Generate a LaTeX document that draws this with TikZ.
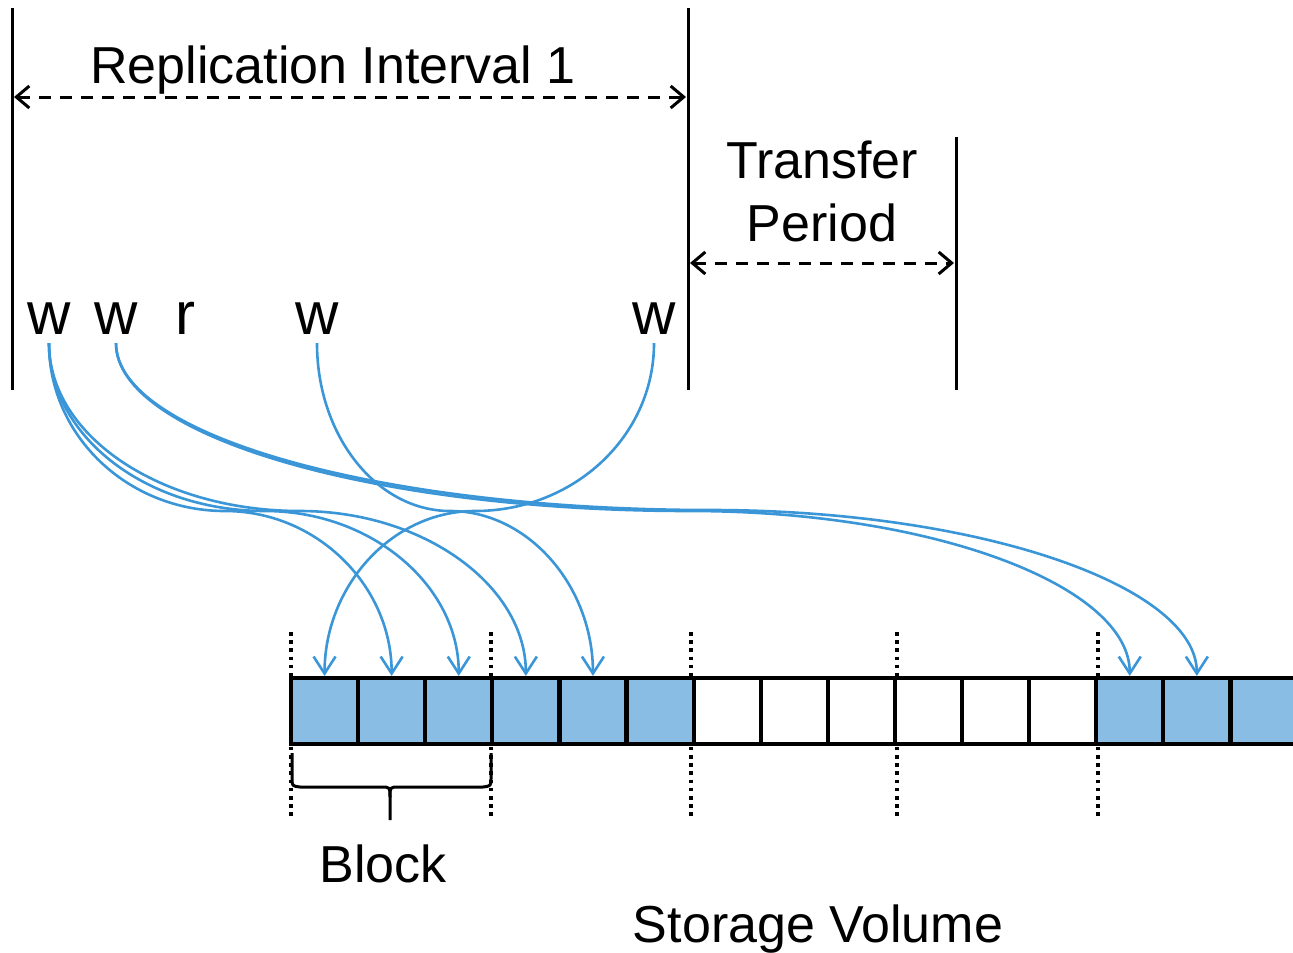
\documentclass[tikz,border=0pt]{standalone}
\usepackage{fontspec}
\setmainfont{Liberation Sans}
\usetikzlibrary{arrows.meta}
\definecolor{wblue}{RGB}{58,150,215}
\definecolor{cfill}{RGB}{137,189,228}
\begin{document}
\begin{tikzpicture}[x=1pt,y=-1pt,
  lbl/.style={font=\fontsize{52}{63}\selectfont, inner sep=0pt},
  opw/.style={font=\fontsize{60}{60}\selectfont, inner xsep=0pt, inner ysep=9pt, anchor=base},
  cell/.style={draw=black, line width=4.2pt, minimum width=67.1pt, minimum height=66pt, inner sep=0pt},
  wire/.style={draw=wblue, line width=2.6pt, -{Straight Barb[length=17pt,width=22pt]}},
  dimline/.style={line width=3pt, dash pattern=on 12pt off 9pt,
     {Straight Barb[length=13pt,width=22pt]}-{Straight Barb[length=13pt,width=22pt]}},
  vline/.style={line width=3pt},
  dotline/.style={line width=3.6pt, dash pattern=on 3.6pt off 4.6pt}
]
\useasboundingbox (0,0) rectangle (1293,953);

% time boundaries
\draw[vline] (12,8) -- (12,390);
\draw[vline] (688,8) -- (688,390);
\draw[vline] (956,137) -- (956,390);

\coordinate (ra) at (14,97);
\coordinate (rb) at (686,97);
\coordinate (ta) at (690,263);
\coordinate (tb) at (954,263);
\draw[dimline] (ra) -- (rb);
\draw[dimline] (ta) -- (tb);

\node[lbl, anchor=base] (rep) at (333,83) {Replication Interval 1};
\node[lbl, align=center] (tp) at (822,191) {Transfer\\Period};

% operations
\node[opw] (w1) at (49,334) {w};
\node[opw] (w2) at (116,334) {w};
\node[opw] (r1) at (185,334) {r};
\node[opw] (w3) at (317,334) {w};
\node[opw] (w4) at (654,334) {w};

% block separators
\foreach \x in {291,491,691,897,1098}
  \draw[dotline] (\x,632) -- (\x,820);

% storage cells
\foreach \i in {1,...,6}
  \node[cell, fill=cfill] (c\i) at ({291+67.1*(\i-0.5)},711) {};
\foreach \i in {7,...,12}
  \node[cell, fill=white] (c\i) at ({291+67.1*(\i-0.5)},711) {};
\foreach \i in {13,14,15}
  \node[cell, fill=cfill] (c\i) at ({291+67.1*(\i-0.5)},711) {};

% writes
\draw[wire] (w1.south) .. controls +(0,93) and +(-97,0) .. (225,511)
   .. controls +(92,0) and +(0,-90) .. (c2.north);
\draw[wire] (w1.south) .. controls +(0,93) and +(-119,0) .. (265,511)
   .. controls +(107,0) and +(0,-90) .. (c3.north);
\draw[wire] (w1.south) .. controls +(0,93) and +(-139,0) .. (300,511)
   .. controls +(124,0) and +(0,-90) .. (c4.north);
\draw[wire] (w3.south) .. controls +(0,93) and +(-73,0) .. (450,511)
   .. controls +(78,0) and +(0,-90) .. (c5.north);
\draw[wire] (w4.south) .. controls +(0,93) and +(99,0) .. (475,511)
   .. controls +(-83,0) and +(0,-90) .. (c1.north);
\draw[wire] (w2.south) .. controls +(0,93) and +(-317,0) .. (690,511)
   .. controls +(243,0) and +(0,-90) .. (c13.north);
\draw[wire] (w2.south) .. controls +(0,93) and +(-328,0) .. (710,510)
   .. controls +(269,0) and +(0,-90) .. (c14.north);

% brace
\draw[line width=3pt, line join=round]
  (292,753) -- (292,778) .. controls (292,786) .. (300,787) -- (381,787)
  .. controls (390,787) .. (390,797) -- (390,820);
\draw[line width=3pt, line join=round]
  (491,753) -- (491,778) .. controls (491,786) .. (483,787) -- (399,787)
  .. controls (390,787) .. (390,797);

\node[lbl, anchor=base] (blk) at (383,882) {Block};
\node[lbl, anchor=base] (sv) at (818,942) {Storage Volume};
\end{tikzpicture}
\end{document}
